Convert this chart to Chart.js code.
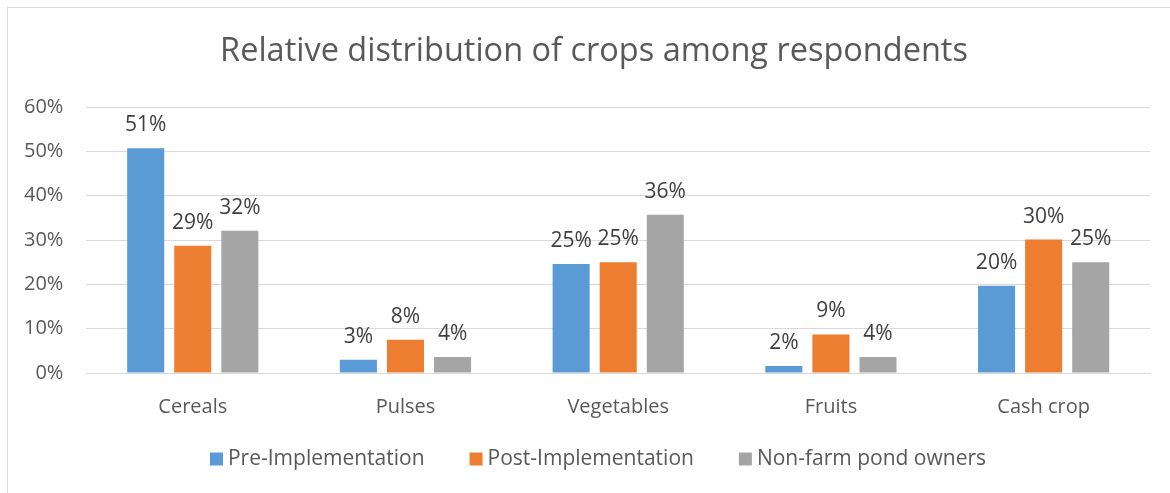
<!DOCTYPE html>
<html>
<head>
<meta charset="utf-8">
<script src="https://cdn.jsdelivr.net/npm/chart.js@4.4.1/dist/chart.umd.min.js"></script>
<style>
  html, body { margin: 0; padding: 0; background: #fff; }
  #wrap { position: relative; width: 1170px; height: 493px; }
</style>
</head>
<body>
<div id="wrap"><canvas id="chart"></canvas></div>
<script>
// Data (percent)
const categories = ['Cereals', 'Pulses', 'Vegetables', 'Fruits', 'Cash crop'];
const preImplementation = [50.7, 3.0, 24.6, 1.6, 19.7];
const postImplementation = [28.7, 7.5, 25.0, 8.7, 30.1];
const nonFarmPondOwners = [32.1, 3.6, 35.7, 3.6, 25.0];
const yTicks = [0, 10, 20, 30, 40, 50, 60];
const chartTitle = 'Relative distribution of crops among respondents';

const FONT = '"Open Sans", "DejaVu Sans", sans-serif';
const TEXT = '#595959';

// frame round the chart + title
const framePlugin = {
    id: 'frame',
    beforeDraw(chart) {
        const ctx = chart.ctx;
        ctx.save();
        ctx.fillStyle = '#fff';
        ctx.fillRect(0, 0, chart.width, chart.height);
        ctx.strokeStyle = '#D9D9D9';
        ctx.lineWidth = 1;
        ctx.strokeRect(7.5, 7.5, chart.width + 10, chart.height + 10);
        ctx.font = '32.5px ' + FONT;
        ctx.fillStyle = TEXT;
        ctx.textAlign = 'center';
        ctx.textBaseline = 'middle';
        ctx.fillText(chartTitle, 594, 51.5);
        ctx.restore();
    }
};

// value labels above the bars
const valueLabels = {
    id: 'valueLabels',
    afterDatasetsDraw(chart) {
        const ctx = chart.ctx;
        ctx.save();
        ctx.font = '21px ' + FONT;
        ctx.fillStyle = '#404040';
        ctx.textAlign = 'center';
        ctx.textBaseline = 'alphabetic';
        chart.data.datasets.forEach((ds, i) => {
            chart.getDatasetMeta(i).data.forEach((bar, j) => {
                ctx.fillText(Math.round(ds.data[j]) + '%', bar.x, bar.y - 17);
            });
        });
        ctx.restore();
    }
};

// legend drawn under the axis
const bottomLegend = {
    id: 'bottomLegend',
    afterDraw(chart) {
        const ctx = chart.ctx;
        ctx.save();
        ctx.font = '21px ' + FONT;
        ctx.textBaseline = 'middle';
        const box = 13, gapText = 5, gapItem = 45;
        const items = chart.data.datasets.map(ds => ({
            label: ds.label, color: ds.backgroundColor,
            w: box + gapText + ctx.measureText(ds.label).width
        }));
        const total = items.reduce((s, it) => s + it.w, 0) + gapItem * (items.length - 1);
        let x = 598 - total / 2;
        const y = 459;
        items.forEach(it => {
            ctx.fillStyle = it.color;
            ctx.fillRect(x, y - box / 2, box, box);
            ctx.fillStyle = TEXT;
            ctx.textAlign = 'left';
            ctx.fillText(it.label, x + box + gapText, y);
            x += it.w + gapItem;
        });
        ctx.restore();
    }
};

new Chart(document.getElementById('chart'), {
    type: 'bar',
    data: {
        labels: categories,
        datasets: [
            { label: 'Pre-Implementation', data: preImplementation, backgroundColor: '#5B9BD5' },
            { label: 'Post-Implementation', data: postImplementation, backgroundColor: '#ED7D31' },
            { label: 'Non-farm pond owners', data: nonFarmPondOwners, backgroundColor: '#A5A5A5' }
        ]
    },
    options: {
        responsive: true,
        maintainAspectRatio: false,
        animation: false,
        layout: { padding: { left: 1, right: 20, top: 107, bottom: 60 } },
        datasets: {
            bar: { categoryPercentage: 0.664, barPercentage: 0.787 }
        },
        plugins: {
            legend: { display: false },
            tooltip: { enabled: false },
            title: { display: false }
        },
        scales: {
            x: {
                grid: { display: false },
                border: { display: true, color: '#D9D9D9' },
                ticks: { color: TEXT, font: { family: FONT, size: 20 }, padding: 14 }
            },
            y: {
                min: 0,
                max: 60,
                afterBuildTicks(axis) {
                    axis.ticks = yTicks.map(v => ({ value: v }));
                },
                grid: { color: '#D9D9D9', drawTicks: false },
                border: { display: false },
                ticks: {
                    color: TEXT,
                    font: { family: FONT, size: 20 },
                    padding: 23,
                    callback: v => v + '%'
                }
            }
        }
    },
    plugins: [framePlugin, valueLabels, bottomLegend]
});
</script>
</body>
</html>
